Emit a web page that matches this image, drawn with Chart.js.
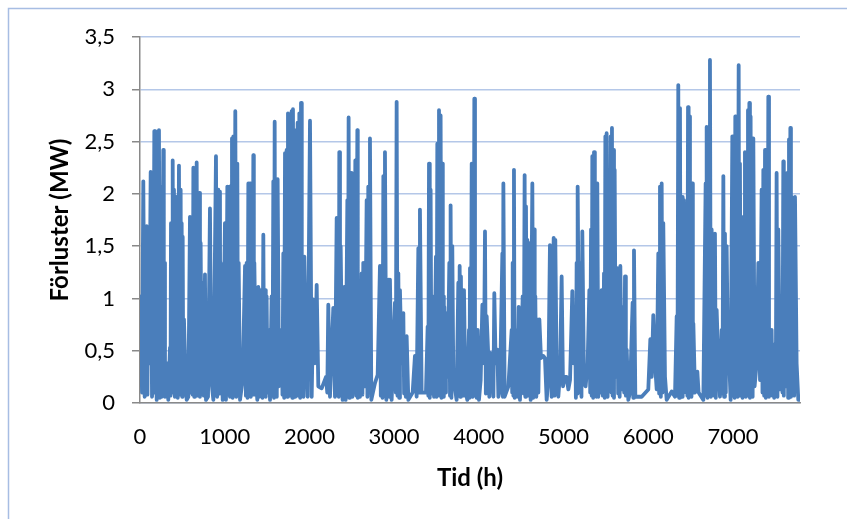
<!DOCTYPE html>
<html><head><meta charset="utf-8">
<script src="https://cdn.jsdelivr.net/npm/chart.js@4.4.0/dist/chart.umd.min.js"></script>
<style>html,body{margin:0;padding:0;background:#fff;} canvas{display:block;}</style>
</head><body>
<canvas id="c" width="847" height="519"></canvas>
<script>
// Time (h) of each read-off point
const hours = [
  0,24,39,55,71,79,88,98,110,126,
  142,157,169,175,181,189,197,212,218,224,
  234,244,256,275,281,287,295,315,334,354,
  360,366,378,386,393,401,411,421,427,433,
  446,460,470,480,486,492,498,504,511,519,
  531,551,571,590,602,614,622,630,640,649,
  659,669,679,689,694,700,708,716,728,740,
  753,767,779,803,826,842,866,897,911,925,
  934,944,948,952,976,1003,1015,1031,1043,1055,
  1062,1070,1078,1086,1094,1102,1113,1125,1137,1149,
  1157,1165,1181,1212,1240,1250,1259,1269,1279,1289,
  1299,1308,1318,1328,1338,1344,1350,1369,1385,1397,
  1407,1417,1426,1436,1446,1456,1466,1476,1485,1495,
  1505,1515,1535,1554,1564,1574,1582,1590,1597,1605,
  1615,1625,1641,1672,1682,1692,1702,1712,1721,1731,
  1739,1747,1759,1771,1780,1790,1798,1806,1816,1826,
  1834,1842,1851,1861,1871,1881,1891,1901,1910,1920,
  1930,1940,1960,1979,2007,2027,2046,2066,2086,2105,
  2145,2196,2211,2223,2243,2282,2302,2322,2331,2341,
  2347,2353,2361,2369,2392,2412,2428,2448,2455,2463,
  2471,2479,2489,2499,2508,2518,2530,2542,2554,2566,
  2571,2577,2597,2617,2626,2636,2656,2676,2685,2695,
  2705,2715,2731,2774,2806,2833,2843,2853,2863,2873,
  2882,2892,2908,2936,2943,2951,2971,3010,3020,3030,
  3040,3050,3060,3069,3089,3109,3118,3128,3138,3148,
  3168,3219,3246,3266,3286,3295,3305,3325,3376,3396,
  3404,3412,3421,3431,3441,3451,3471,3494,3502,3510,
  3520,3530,3540,3549,3559,3569,3575,3581,3587,3593,
  3602,3612,3632,3652,3660,3667,3677,3687,3699,3738,
  3758,3766,3774,3781,3789,3797,3805,3815,3825,3841,
  3864,3884,3890,3896,3906,3916,3922,3928,3938,3947,
  3955,3963,3975,3987,4002,4022,4042,4061,4073,4083,
  4093,4109,4124,4140,4156,4172,4183,4199,4219,4231,
  4250,4278,4284,4290,4305,4349,4388,4394,4400,4408,
  4415,4423,4431,4455,4471,4486,4518,4530,4541,4549,
  4557,4565,4573,4581,4589,4612,4632,4642,4652,4660,
  4667,4679,4691,4703,4715,4734,4762,4781,4801,4821,
  4840,4860,4884,4894,4903,4919,4939,4959,4978,4994,
  5018,5037,5057,5077,5104,5120,5136,5146,5155,5161,
  5167,5183,5202,5212,5222,5242,5261,5285,5305,5315,
  5325,5333,5340,5350,5360,5370,5380,5390,5399,5411,
  5431,5441,5450,5464,5478,5486,5494,5502,5509,5515,
  5521,5541,5557,5565,5572,5580,5588,5596,5604,5616,
  5635,5645,5655,5663,5671,5686,5706,5716,5726,5736,
  5746,5765,5785,5816,5824,5832,5848,5923,6001,6025,
  6041,6060,6080,6100,6119,6129,6139,6149,6159,6168,
  6178,6198,6218,6277,6316,6336,6345,6355,6365,6375,
  6383,6391,6399,6407,6414,6422,6438,6454,6462,6470,
  6477,6485,6493,6501,6511,6521,6527,6533,6552,6580,
  6595,6651,6678,6684,6690,6700,6710,6719,6729,6739,
  6749,6759,6769,6778,6788,6798,6808,6828,6847,6867,
  6877,6887,6896,6906,6916,6926,6942,6957,6973,6993,
  7003,7013,7020,7028,7036,7044,7056,7068,7075,7083,
  7093,7103,7113,7123,7132,7142,7152,7162,7170,7178,
  7186,7194,7201,7209,7217,7225,7233,7241,7256,7280,
  7300,7320,7339,7349,7359,7369,7379,7388,7398,7408,
  7418,7426,7434,7445,7457,7467,7477,7487,7497,7506,
  7516,7526,7536,7556,7575,7585,7595,7601,7607,7622,
  7642,7652,7662,7670,7678,7685,7693,7703,7713,7723,
  7733,7752,7772,7792
];
// Losses (MW) at those times
const losses = [
  1.02,0.10,2.12,0.06,0.10,1.69,0.08,1.66,0.38,2.21,
  0.06,0.38,2.60,0.10,2.60,0.38,0.03,1.34,0.06,2.61,
  0.05,2.07,0.06,2.42,0.08,1.34,0.06,0.38,0.03,0.53,
  0.07,1.72,0.38,2.32,0.10,2.04,0.06,1.02,0.12,1.97,
  0.05,2.27,0.08,2.04,0.10,1.72,0.06,1.59,0.09,0.80,
  0.45,0.03,0.06,1.78,0.10,0.70,0.08,2.25,0.06,2.17,
  0.10,2.30,0.07,1.69,0.12,2.01,0.06,1.53,0.09,1.15,
  0.07,1.23,0.03,0.06,1.86,0.22,0.03,2.36,0.06,2.04,
  0.09,2.02,0.10,1.34,0.03,1.72,0.03,2.07,0.08,2.07,
  0.06,1.69,0.10,2.53,0.05,2.55,0.08,2.79,0.06,2.29,
  0.10,1.34,0.03,0.22,1.31,0.07,1.34,0.05,2.10,0.09,
  2.10,0.06,1.97,0.10,2.37,0.08,1.34,0.22,0.03,1.11,
  0.06,1.08,0.09,1.05,0.05,1.61,0.08,1.08,0.06,1.02,
  0.10,0.70,0.03,1.02,0.07,2.12,0.05,2.69,0.09,2.13,
  0.06,2.14,0.16,0.70,0.08,1.43,0.05,2.39,0.09,2.42,
  0.06,2.77,0.10,2.45,0.07,2.79,0.05,2.81,0.09,2.61,
  0.06,1.40,0.10,2.68,0.07,2.77,0.05,2.87,0.09,1.40,
  0.06,1.40,0.48,0.06,2.70,0.06,0.99,0.38,1.13,0.16,
  0.14,0.25,0.10,0.94,0.06,0.91,0.06,1.77,0.08,1.66,
  0.06,2.40,0.10,1.50,0.03,1.11,0.03,1.94,0.07,2.73,
  0.05,2.20,0.09,2.20,0.06,1.85,0.10,2.32,0.07,2.61,
  0.05,0.86,0.06,1.24,0.08,1.34,0.16,1.94,0.06,2.07,
  0.10,2.53,0.03,0.19,0.27,1.31,0.07,1.08,0.05,2.17,
  0.09,2.40,0.03,1.18,0.06,1.18,0.03,0.96,0.10,2.88,
  0.07,1.24,0.05,1.08,0.38,0.86,0.09,0.61,0.06,0.64,
  0.03,0.10,0.45,0.06,1.48,0.10,1.85,0.10,0.10,0.73,
  0.07,2.29,0.05,2.04,0.09,1.02,0.06,1.40,0.06,2.48,
  0.10,2.80,0.07,2.75,0.05,2.29,0.09,1.02,0.06,0.92,
  0.10,0.86,0.25,1.34,0.07,1.89,0.05,1.50,0.25,0.03,
  1.15,0.09,1.31,0.06,1.21,0.10,1.08,0.07,1.08,0.13,
  0.03,0.70,0.05,1.29,0.09,2.29,0.06,2.29,0.10,2.91,
  0.07,0.70,0.05,0.70,0.03,0.22,0.94,0.38,1.64,0.09,
  0.83,0.51,0.06,0.48,0.38,0.06,1.05,0.38,0.51,0.06,
  0.13,1.43,0.06,2.10,0.06,0.16,0.70,0.10,1.34,0.07,
  2.23,0.05,0.70,0.06,0.92,0.03,1.02,0.09,2.18,0.06,
  1.88,0.10,1.56,0.07,1.53,0.03,2.10,0.05,1.66,0.09,
  1.02,0.06,0.80,0.10,0.80,0.43,0.45,0.43,0.03,0.22,
  1.51,0.06,1.58,0.07,1.56,0.32,0.06,0.29,1.21,0.16,
  0.25,0.25,0.13,0.22,1.07,0.38,0.89,0.05,1.34,0.09,
  2.07,0.38,1.34,0.06,1.64,0.19,0.16,0.38,1.08,0.10,
  1.66,0.07,2.36,0.05,2.40,0.09,1.34,0.06,2.10,0.06,
  0.96,0.10,1.08,0.07,1.24,0.05,2.55,0.09,2.58,0.06,
  1.27,0.25,2.55,0.10,2.63,0.07,2.42,0.05,2.23,0.25,
  1.29,0.09,0.86,0.06,1.31,0.13,0.92,0.10,1.21,0.07,
  0.51,0.03,0.10,0.96,0.05,1.46,0.06,0.06,0.13,0.61,
  0.25,0.84,0.38,0.13,1.43,0.09,2.07,0.06,2.10,0.10,
  1.72,0.25,0.03,0.11,0.06,0.83,0.07,3.04,0.05,2.82,
  0.09,1.97,0.06,1.97,0.10,1.94,0.25,0.83,0.07,2.83,
  0.05,2.74,0.09,2.10,0.06,2.10,0.10,0.76,0.10,0.30,
  0.10,0.03,2.10,0.07,2.64,0.05,1.37,0.09,3.28,0.06,
  1.66,0.10,1.15,0.07,1.62,0.05,0.89,0.38,0.06,0.70,
  0.09,2.17,0.06,1.62,0.10,1.50,0.38,0.38,0.03,2.55,
  0.07,2.55,0.05,2.74,0.09,2.04,0.06,3.23,0.10,2.29,
  0.07,1.53,0.05,1.78,0.09,2.40,0.06,0.86,0.10,2.80,
  0.07,2.87,0.05,2.74,0.09,1.59,0.06,2.53,0.16,0.38,
  1.34,0.22,2.04,0.10,2.23,0.07,2.42,0.05,2.42,0.09,
  2.93,0.06,0.70,0.10,0.70,0.07,0.56,0.05,0.51,0.09,
  2.20,0.06,1.66,0.13,1.02,0.10,2.31,0.07,1.97,0.16,
  2.20,0.05,2.52,0.09,2.63,0.06,1.97,0.10,1.72,0.07,
  1.97,0.38,0.03,0.03
];
const xTicks = [0,1000,2000,3000,4000,5000,6000,7000];
const yTicks = [0,0.5,1,1.5,2,2.5,3,3.5];
const xTitle = 'Tid (h)';
const yTitle = 'Förluster (MW)';

const points = hours.map((h, i) => ({x: h, y: losses[i]}));
const fmt = v => String(v).replace('.', ',');

const frame = {
  id: 'frame',
  beforeDraw(chart) {
    const c = chart.ctx;
    c.save();
    c.fillStyle = '#ffffff';
    c.fillRect(0, 0, chart.width, chart.height);
    c.strokeStyle = '#a7bde3';
    c.lineWidth = 1.5;
    c.strokeRect(8.5, 8.5, chart.width + 40, chart.height + 40);
    c.restore();
  }
};

new Chart(document.getElementById('c'), {
  type: 'line',
  data: {datasets: [{
    data: points,
    borderColor: '#4a7ebb',
    borderWidth: 3.8,
    pointRadius: 0,
    tension: 0,
    borderJoinStyle: 'round',
    borderCapStyle: 'round',
    fill: false
  }]},
  options: {
    responsive: false,
    animation: false,
    devicePixelRatio: 1,
    layout: {padding: {left: 0, top: 37, right: 47, bottom: 0}},
    plugins: {legend: {display: false}, tooltip: {enabled: false}},
    scales: {
      x: {
        type: 'linear', min: 0, max: hours[hours.length - 1],
        afterBuildTicks: s => { s.ticks = xTicks.map(v => ({value: v})); },
        afterFit: s => { s.height = 116; },
        grid: {display: false, drawTicks: false},
        border: {display: true, color: '#898989', width: 1.5},
        ticks: {font: {family: 'Lato', size: 22}, color: '#000', padding: 21, maxRotation: 0, autoSkip: false, callback: v => String(v)},
        title: {display: true, text: xTitle, color: '#000', font: {family: 'Lato', size: 24, weight: 'bold'}, padding: {top: 0, bottom: 26}}
      },
      y: {
        min: 0, max: 3.5,
        afterBuildTicks: s => { s.ticks = yTicks.map(v => ({value: v})); },
        afterFit: s => { s.width = 140; },
        grid: {color: '#b4c7e8', lineWidth: 1.5, drawTicks: true, tickLength: 8, tickColor: '#898989', tickWidth: 1.5},
        border: {display: true, color: '#898989', width: 1.5},
        ticks: {font: {family: 'Lato', size: 22}, color: '#000', padding: 17, autoSkip: false, callback: v => fmt(v)},
        title: {display: true, text: yTitle, color: '#000', font: {family: 'Lato', size: 24, weight: 'bold'}, padding: {top: 46, bottom: 0}}
      }
    }
  },
  plugins: [frame]
});
</script>
</body></html>
